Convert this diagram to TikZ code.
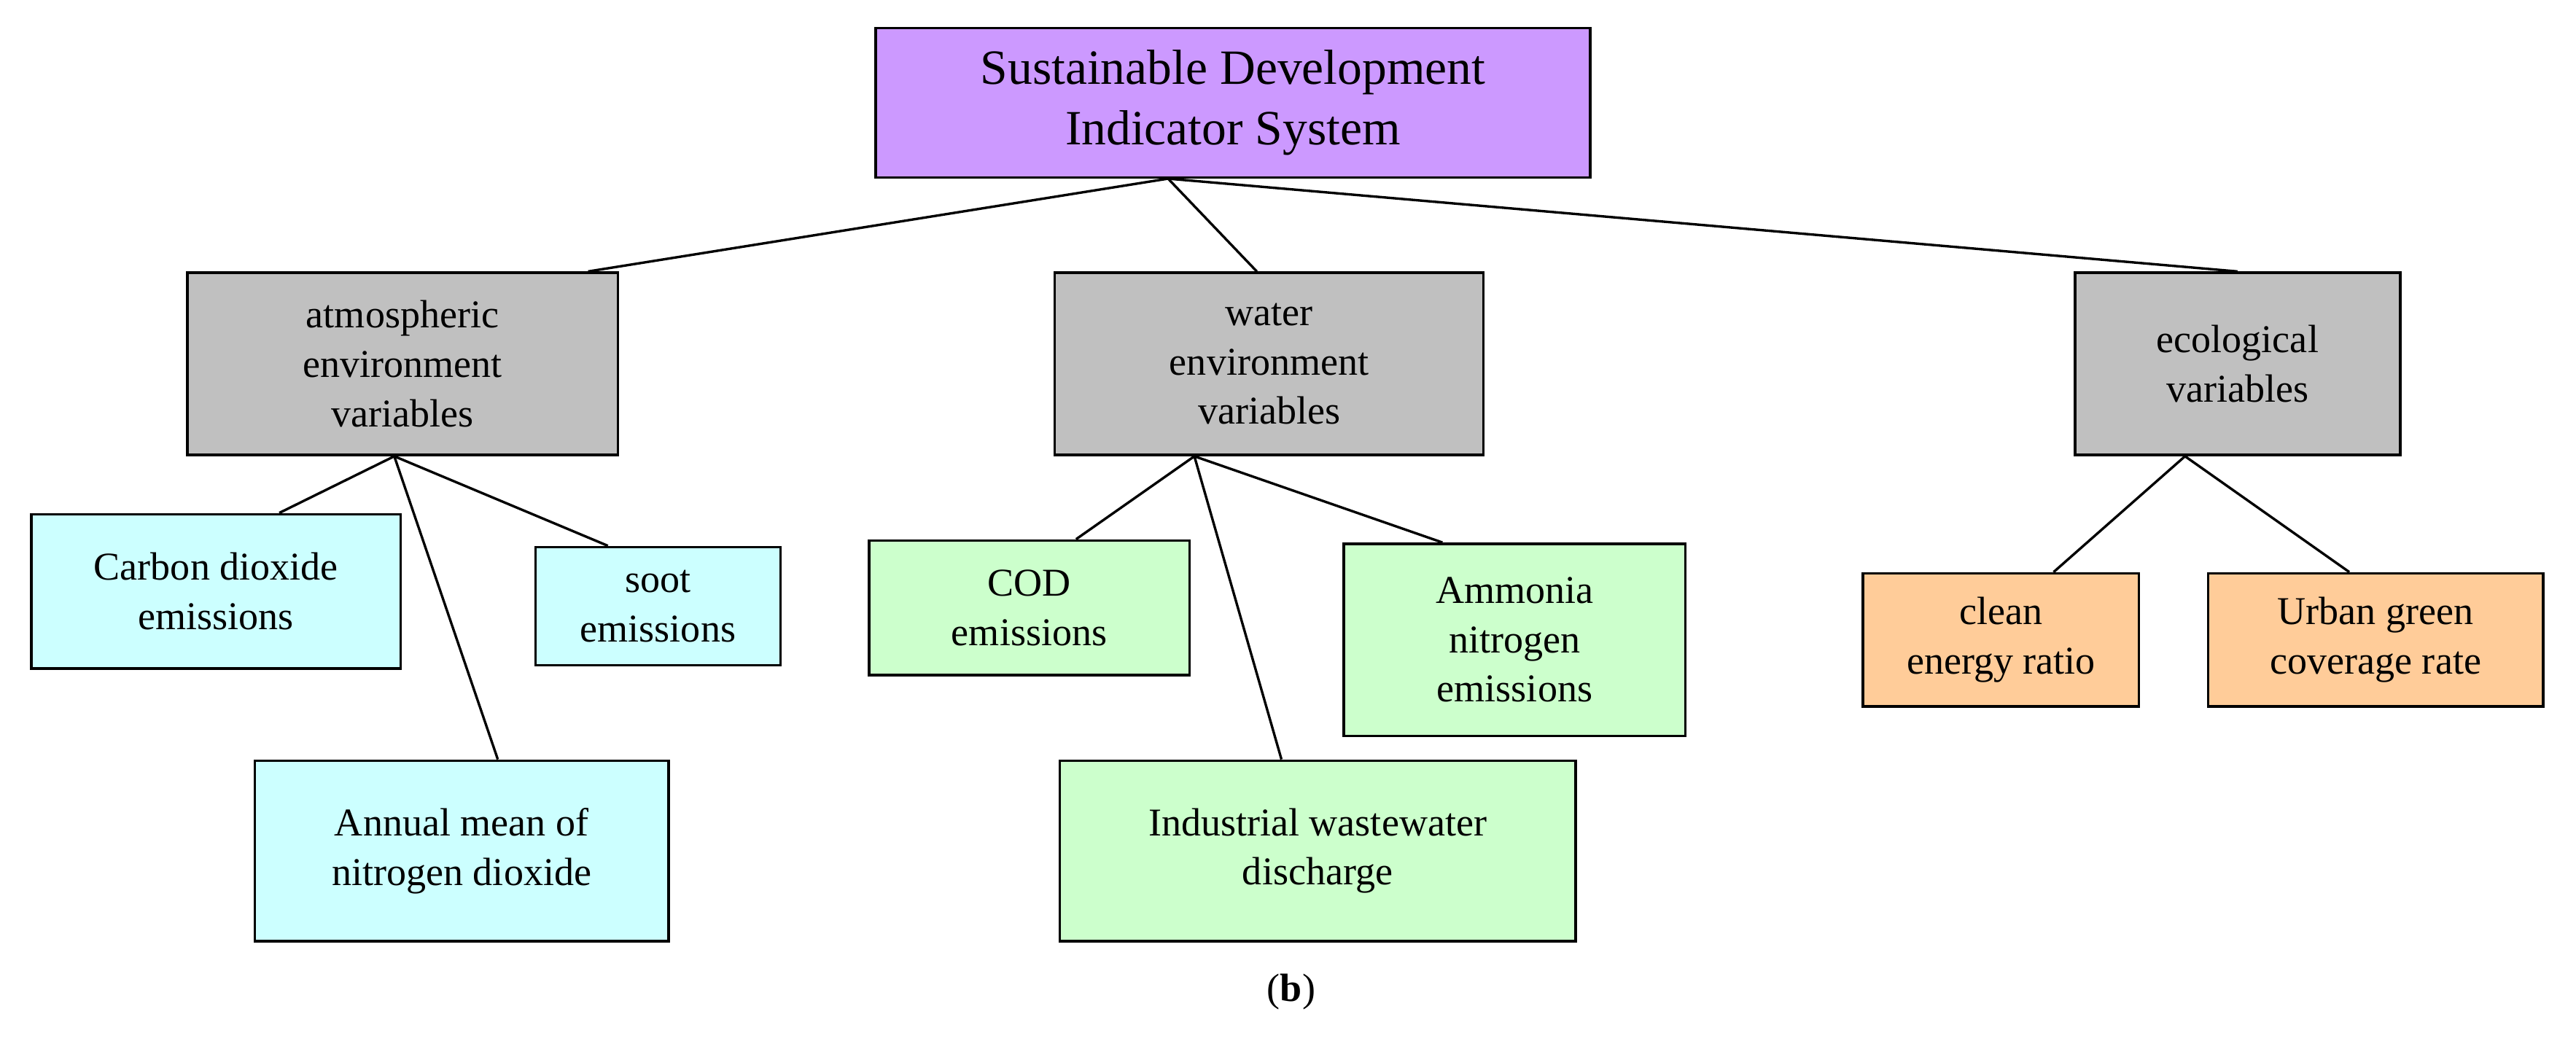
\documentclass[tikz,border=0pt]{standalone}
\usepackage{fontspec}
\setmainfont{Liberation Serif}
\begin{document}
\begin{tikzpicture}[x=1pt,y=-1pt,
 bx/.style={draw=black,line width=1.5pt,align=center,inner sep=0pt,font=\fontsize{24}{30}\selectfont},
 ln/.style={line width=1.5pt}]
\definecolor{cp}{HTML}{CC99FF}\definecolor{cg}{HTML}{C0C0C0}
\definecolor{cc}{HTML}{CCFFFF}\definecolor{cgr}{HTML}{CCFFCC}\definecolor{co}{HTML}{FFCC99}
\useasboundingbox[fill=white] (0,0) rectangle (1568,640);
\newcommand{\bxn}[7]{\node[bx,fill=#6,minimum width=#4-#2,minimum height=#5-#3] (#1) at ({(#2+#4)/2},{(#3+#5)/2}) {#7};}
\node[bx,fill=cp,minimum width=435pt,minimum height=91pt,font=\fontsize{30}{37}\selectfont] (root) at (750.5,62.5) {Sustainable Development\\Indicator System};
\bxn{atm}{114}{166}{376}{277}{cg}{atmospheric\\environment\\variables}
\bxn{wat}{642}{166}{903}{277}{cg}{water\\environment\\variables}
\bxn{eco}{1263}{166}{1461}{277}{cg}{ecological\\variables}
\bxn{car}{19}{313}{244}{407}{cc}{Carbon dioxide\\emissions}
\bxn{soot}{326}{333}{475}{405}{cc}{soot\\emissions}
\bxn{ann}{155}{463}{407}{573}{cc}{Annual mean of\\nitrogen dioxide}
\bxn{cod}{529}{329}{724}{411}{cgr}{COD\\emissions}
\bxn{amm}{818}{331}{1026}{448}{cgr}{Ammonia\\nitrogen\\emissions}
\bxn{ind}{645}{463}{959}{573}{cgr}{Industrial wastewater\\discharge}
\bxn{cle}{1134}{349}{1302}{430}{co}{clean\\energy ratio}
\bxn{urb}{1344}{349}{1548}{430}{co}{Urban green\\coverage rate}
\draw[ln] ([xshift=-39.5pt]root.south) -- ([xshift=113pt]atm.north);
\draw[ln] ([xshift=-39.5pt]root.south) -- ([xshift=-7.5pt]wat.north);
\draw[ln] ([xshift=-39.5pt]root.south) -- (eco.north);
\draw[ln] ([xshift=-5pt]atm.south) -- ([xshift=38.5pt]car.north);
\draw[ln] ([xshift=-5pt]atm.south) -- ([xshift=-30.5pt]soot.north);
\draw[ln] ([xshift=-5pt]atm.south) -- ([xshift=22pt]ann.north);
\draw[ln] ([xshift=-45.5pt]wat.south) -- ([xshift=28.5pt]cod.north);
\draw[ln] ([xshift=-45.5pt]wat.south) -- ([xshift=-44pt]amm.north);
\draw[ln] ([xshift=-45.5pt]wat.south) -- ([xshift=-22pt]ind.north);
\draw[ln] ([xshift=-32pt]eco.south) -- ([xshift=32pt]cle.north);
\draw[ln] ([xshift=-32pt]eco.south) -- ([xshift=-16pt]urb.north);
\node[font=\fontsize{24}{30}\selectfont] (lab) at (786,604) {(\textbf{b})};
\end{tikzpicture}
\end{document}
